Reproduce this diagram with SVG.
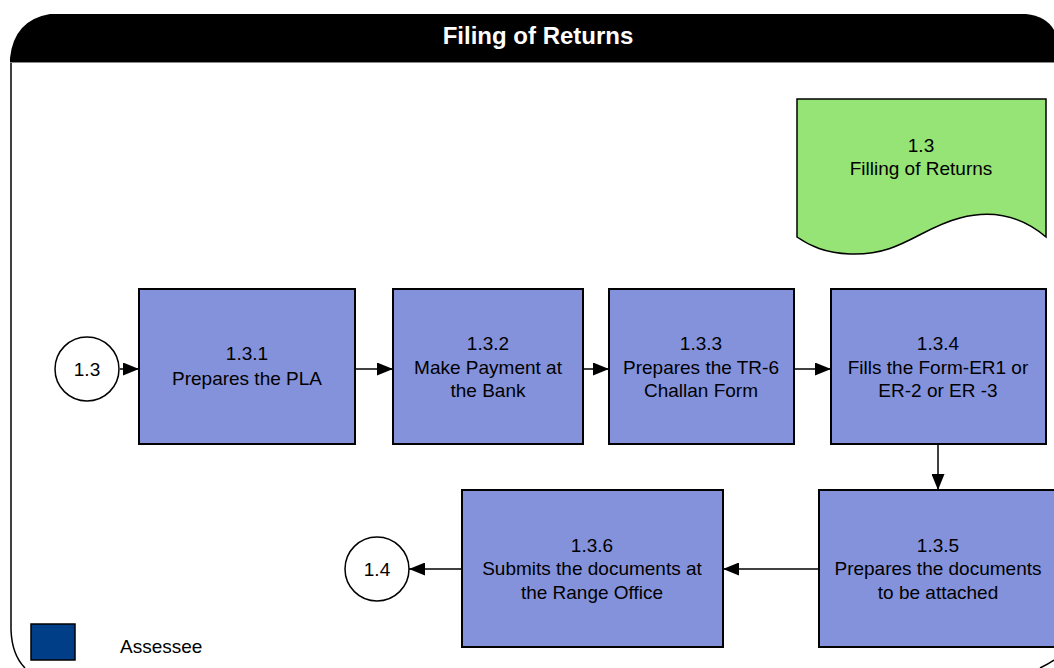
<svg xmlns="http://www.w3.org/2000/svg" width="1054" height="668" viewBox="0 0 1054 668">
<defs>
<marker id="ah" markerWidth="16" markerHeight="13" refX="16" refY="6.5" orient="auto" markerUnits="userSpaceOnUse"><path d="M0,0 L16,6.5 L0,13 Z" fill="#000"/></marker>
<style>
.box{fill:#8492dc;stroke:#000;stroke-width:2}
.t{font-family:"Liberation Sans",Arial,sans-serif;font-size:19px;fill:#000;text-anchor:middle}
.c{fill:#fff;stroke:#000;stroke-width:1.5}
.ln{stroke:#000;stroke-width:1.5;fill:none;marker-end:url(#ah)}
</style>
</defs>
<rect width="1054" height="668" fill="#fff"/>
<g id="frame">
<path d="M11,630 L11,62 M11,630 Q12,655 25,668" fill="none" stroke="#000" stroke-width="1.5"/>
<path d="M1040,668 Q1048,664 1054,660" fill="none" stroke="#000" stroke-width="1.5"/>
<path d="M10,62 L10,58 Q14,20 50,14 L1026,14 Q1046,16 1054,30 L1054,62 Z" fill="#000"/>
<line x1="10" y1="62.5" x2="1054" y2="62.5" stroke="#888" stroke-width="1"/>
<text x="538" y="44" font-family="'Liberation Sans',Arial,sans-serif" font-size="24" font-weight="bold" fill="#fff" text-anchor="middle">Filing of Returns</text>
</g>
<g id="doc">
<path d="M797,99 L1046,99 L1046,237 C1020,215 990,210 960,218 C920,228 900,256 850,254 C825,253 810,246 797,237 Z" fill="#95e475" stroke="#000" stroke-width="1.5"/>
<text class="t" x="921" y="152">1.3</text>
<text class="t" x="921" y="175">Filling of Returns</text>
</g>
<g id="c13">
<circle class="c" cx="87" cy="369" r="32"/>
<text class="t" x="87" y="376">1.3</text>
</g>
<g id="n131">
<rect class="box" x="139" y="289" width="216" height="155"/>
<text class="t" x="247" y="360">1.3.1</text>
<text class="t" x="247" y="385">Prepares the PLA</text>
</g>
<g id="n132">
<rect class="box" x="393" y="289" width="190" height="155"/>
<text class="t" x="488" y="350">1.3.2</text>
<text class="t" x="488" y="374">Make Payment at</text>
<text class="t" x="488" y="397">the Bank</text>
</g>
<g id="n133">
<rect class="box" x="609" y="289" width="185" height="155"/>
<text class="t" x="701" y="350">1.3.3</text>
<text class="t" x="701" y="374">Prepares the TR-6</text>
<text class="t" x="701" y="397">Challan Form</text>
</g>
<g id="n134">
<rect class="box" x="831" y="289" width="215" height="155"/>
<text class="t" x="938" y="350">1.3.4</text>
<text class="t" x="938" y="374">Fills the Form-ER1 or</text>
<text class="t" x="938" y="397">ER-2 or ER -3</text>
</g>
<g id="n135">
<rect class="box" x="819" y="490" width="240" height="157"/>
<text class="t" x="938" y="552">1.3.5</text>
<text class="t" x="938" y="575">Prepares the documents</text>
<text class="t" x="938" y="599">to be attached</text>
</g>
<g id="n136">
<rect class="box" x="462" y="490" width="261" height="157"/>
<text class="t" x="592" y="552">1.3.6</text>
<text class="t" x="592" y="575">Submits the documents at</text>
<text class="t" x="592" y="599">the Range Office</text>
</g>
<g id="c14">
<circle class="c" cx="377" cy="569" r="32"/>
<text class="t" x="377" y="576">1.4</text>
</g>
<g id="legend">
<rect x="31" y="624" width="44" height="36" fill="#003f87" stroke="#000" stroke-width="1.5"/>
<text x="120" y="653" font-family="'Liberation Sans',Arial,sans-serif" font-size="19" fill="#000">Assessee</text>
</g>
<g id="connectors">
<line class="ln" x1="120" y1="369" x2="139" y2="369"/>
<line class="ln" x1="355" y1="369" x2="393" y2="369"/>
<line class="ln" x1="583" y1="369" x2="609" y2="369"/>
<line class="ln" x1="794" y1="369" x2="831" y2="369"/>
<line class="ln" x1="938" y1="444" x2="938" y2="490"/>
<line class="ln" x1="819" y1="569" x2="723" y2="569"/>
<line class="ln" x1="462" y1="569" x2="409" y2="569"/>
</g>
</svg>
